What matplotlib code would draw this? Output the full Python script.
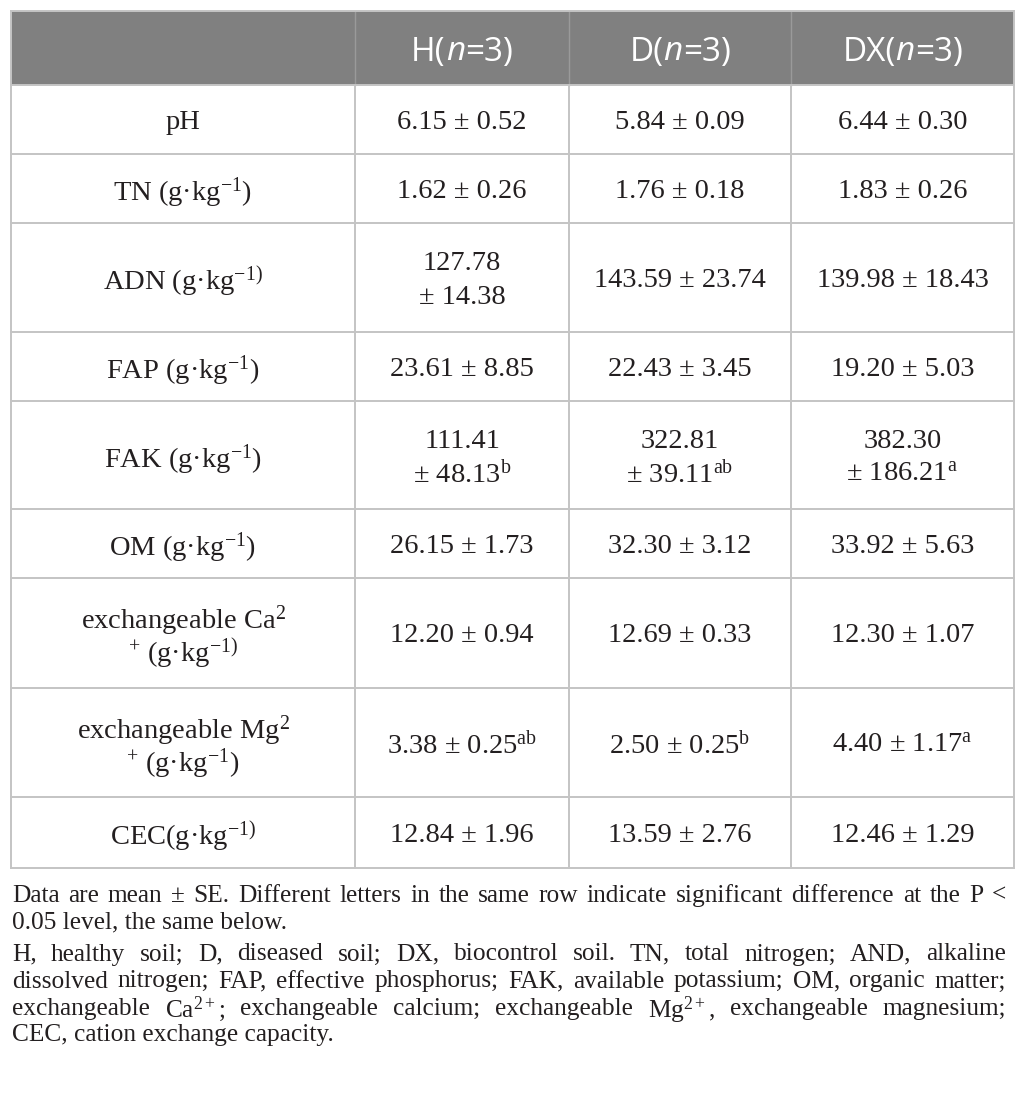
import matplotlib
matplotlib.use("Agg")
from matplotlib import pyplot as plt

plt.rcParams['mathtext.fontset'] = 'custom'
plt.rcParams['mathtext.rm'] = 'Liberation Serif'
plt.rcParams['mathtext.it'] = 'Liberation Serif:italic'

# data
headers = ["H", "D", "DX"]
row_labels = [
    ["pH"],
    ["TN (g·kg$^{-1}$)"],
    ["ADN (g·kg$^{-1)}$"],
    ["FAP (g·kg$^{-1}$)"],
    ["FAK (g·kg$^{-1}$)"],
    ["OM (g·kg$^{-1}$)"],
    ["exchangeable Ca$^{2}$", "$^{+}$ (g·kg$^{-1)}$"],
    ["exchangeable Mg$^{2}$", "$^{+}$ (g·kg$^{-1}$)"],
    ["CEC(g·kg$^{-1)}$"],
]
col_H = [["6.15 ± 0.52"], ["1.62 ± 0.26"], ["127.78", "± 14.38"], ["23.61 ± 8.85"],
         ["111.41", "± 48.13$^{\\mathrm{b}}$"], ["26.15 ± 1.73"], ["12.20 ± 0.94"],
         ["3.38 ± 0.25$^{\\mathrm{ab}}$"], ["12.84 ± 1.96"]]
col_D = [["5.84 ± 0.09"], ["1.76 ± 0.18"], ["143.59 ± 23.74"], ["22.43 ± 3.45"],
         ["322.81", "± 39.11$^{\\mathrm{ab}}$"], ["32.30 ± 3.12"], ["12.69 ± 0.33"],
         ["2.50 ± 0.25$^{\\mathrm{b}}$"], ["13.59 ± 2.76"]]
col_DX = [["6.44 ± 0.30"], ["1.83 ± 0.26"], ["139.98 ± 18.43"], ["19.20 ± 5.03"],
          ["382.30", "± 186.21$^{\\mathrm{a}}$"], ["33.92 ± 5.63"], ["12.30 ± 1.07"],
          ["4.40 ± 1.17$^{\\mathrm{a}}$"], ["12.46 ± 1.29"]]

notes = [
    ("Data are mean ± SE. Different letters in the same row indicate significant difference at the P <", True),
    ("0.05 level, the same below.", False),
    ("H, healthy soil; D, diseased soil; DX, biocontrol soil. TN, total nitrogen; AND, alkaline", True),
    ("dissolved nitrogen; FAP, effective phosphorus; FAK, available potassium; OM, organic matter;", True),
    ("exchangeable Ca$^{2+}$; exchangeable calcium; exchangeable Mg$^{2+}$, exchangeable magnesium;", True),
    ("CEC, cation exchange capacity.", False),
]

# layout (pixels)
W, H = 1026, 1096
col_x = [11, 355, 569, 791, 1014]
row_y = [11, 85, 154, 223, 332, 401, 509, 578, 688, 797, 868]
note_y = [893, 920, 952, 979, 1006, 1033]
serif = 'Liberation Serif'
fs = 20.5
txt_c = '#231f20'
line_c = '#c4c4c4'

fig = plt.figure(figsize=(W / 100, H / 100), dpi=100)
ax = fig.add_axes([0, 0, 1, 1])
ax.set_xlim(0, W)
ax.set_ylim(H, 0)
ax.axis('off')

# header band
ax.fill_between([col_x[0], col_x[-1]], row_y[0], row_y[1], color='#808080', lw=0)
for x in col_x[1:-1]:
    ax.plot([x, x], [row_y[0], row_y[1]], color='#9a9a9a', lw=1)

# grid
for y in row_y[1:]:
    ax.plot([col_x[0], col_x[-1]], [y, y], color=line_c, lw=1.4)
for x in col_x:
    ax.plot([x, x], [row_y[1], row_y[-1]], color=line_c, lw=1.4)
ax.plot([col_x[0], col_x[-1]], [row_y[0], row_y[0]], color=line_c, lw=1.4)
for x in (col_x[0], col_x[-1]):
    ax.plot([x, x], [row_y[0], row_y[1]], color=line_c, lw=1.4)

fig.canvas.draw()
rend = fig.canvas.get_renderer()

# header text: pieces so the italic n stays sans
hy = (row_y[0] + row_y[1]) / 2
for i, h in enumerate(headers):
    cx = (col_x[i + 1] + col_x[i + 2]) / 2
    parts = [(h + "(", 'normal'), ("n", 'italic'), ("=3)", 'normal')]
    ts = [ax.text(0, hy, p, ha='left', va='center_baseline', color='white', fontsize=24,
                  family='Open Sans', style=st) for p, st in parts]
    ws = [t.get_window_extent(rend).width for t in ts]
    x = cx - sum(ws) / 2
    for t, w in zip(ts, ws):
        t.set_x(x)
        x += w


def cell(cx, r, lines):
    cy = (row_y[r + 1] + row_y[r + 2]) / 2
    if len(lines) == 1:
        ax.text(cx, cy, lines[0], ha='center', va='center_baseline', fontsize=fs, family=serif,
                color=txt_c)
    else:
        for k, s in enumerate(lines):
            ax.text(cx, cy + (k - 0.5) * 33, s, ha='center', va='center_baseline', fontsize=fs,
                    family=serif, color=txt_c)


for r in range(len(row_labels)):
    cell((col_x[0] + col_x[1]) / 2, r, row_labels[r])
    cell((col_x[1] + col_x[2]) / 2, r, col_H[r])
    cell((col_x[2] + col_x[3]) / 2, r, col_D[r])
    cell((col_x[3] + col_x[4]) / 2, r, col_DX[r])

# footnotes, justified
left, right = 12, 1006
nfs = 18.3
for (s, just), y in zip(notes, note_y):
    if not just:
        ax.text(left, y, s, ha='left', va='center_baseline', fontsize=nfs, family=serif, color=txt_c)
        continue
    words = s.split(' ')
    ts = [ax.text(0, y, w, ha='left', va='center_baseline', fontsize=nfs, family=serif,
                  color=txt_c) for w in words]
    widths = [t.get_window_extent(rend).width for t in ts]
    gap = (right - left - sum(widths)) / (len(words) - 1)
    x = left
    for t, w in zip(ts, widths):
        t.set_x(x)
        x += w + gap

fig.savefig('out.png', dpi=100)
